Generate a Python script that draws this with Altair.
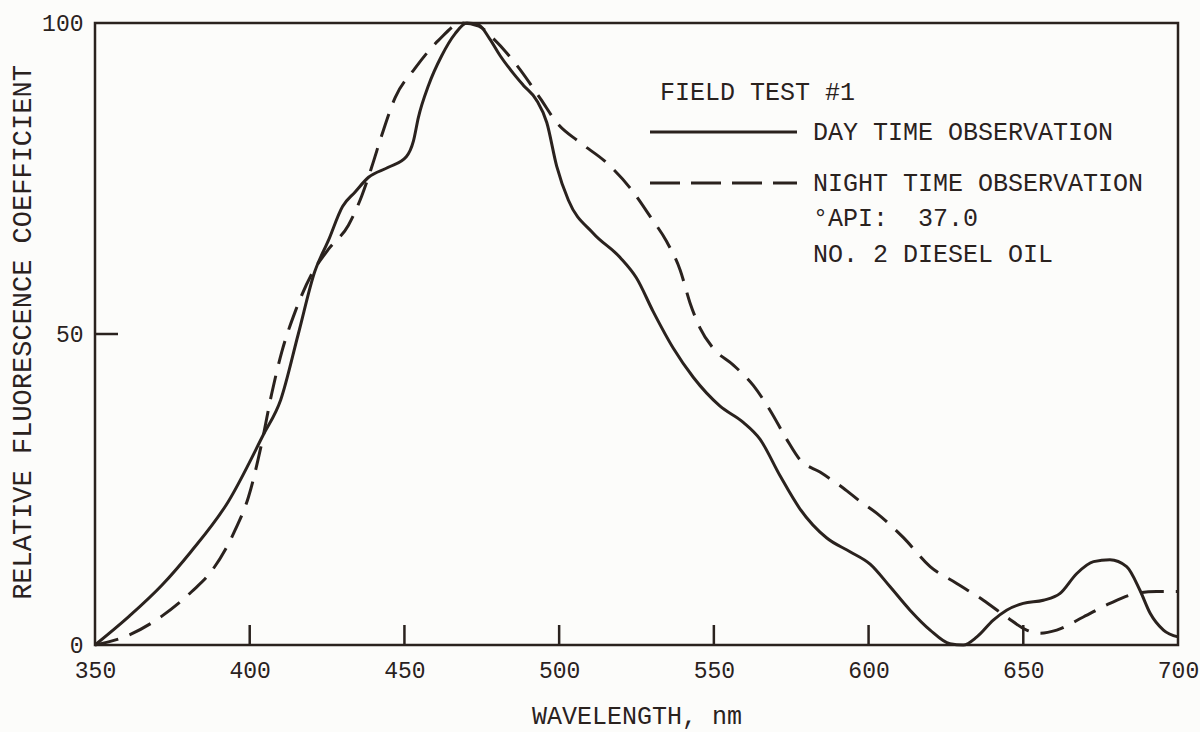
import altair as alt
import pandas as pd

# ---- data ----
day_nm = [350, 361, 371.6, 381, 393, 404.4, 410, 415.7, 421, 425.4, 430, 434, 438.4,
          444.8, 450.6, 452.9, 454.5, 457.8, 462, 466.4, 470.2, 474, 477.5, 481, 485.2,
          488.4, 492.7, 496, 499.2, 503, 511, 519.7, 525, 530.4, 536.9, 543.4, 552,
          559.5, 564.9, 571.4, 577.8, 586.5, 594, 600.5, 606.9, 613.4, 619.9, 626.3,
          630.6, 635, 640.3, 644.6, 650, 656.5, 661.9, 667.3, 672.7, 678, 683.4, 687.7,
          691, 695.3, 700]
day_val = [0, 4.6, 9.6, 15, 23, 33.8, 39.4, 50, 60, 65, 70.5, 72.8, 75.2,
           76.8, 78.5, 81, 84.8, 90, 94.7, 98.3, 100, 99.7, 97.5, 94.7, 91.9,
           90, 87.6, 84, 77, 71.5, 66.2, 62.3, 59, 53.6, 47.7, 43, 38.4,
           35.8, 33.1, 27.2, 21.9, 17.2, 15, 13, 9.4, 5.6, 2.4, 0.2,
           0, 1.3, 4, 5.6, 6.7, 7.2, 8.3, 11.5, 13.4, 13.7, 12.6, 8.8,
           5.1, 2.4, 1.3]

night_nm = [350, 361, 371.5, 381.3, 387.7, 395.3, 399.6, 403.9, 407.1, 410.3, 414.7,
            420, 425.4, 431.9, 436.2, 439.4, 442.7, 447, 453.4, 461, 468.5, 474,
            478.7, 486, 494, 499.2, 506.7, 515.4, 522.9, 529.4, 534.7, 539.1, 542.3,
            545.5, 549.8, 556.3, 562.8, 568.2, 573.5, 577.8, 584.3, 591.9, 597, 602.6,
            611.2, 619.9, 628.5, 637.1, 644.6, 651.1, 655.4, 660.8, 669.4, 678, 686.7,
            693.1, 700]
night_val = [0, 1.6, 4.6, 8.6, 11.9, 18.5, 23.8, 32.5, 40.4, 47, 53.6,
             59.6, 63.6, 67.5, 72.2, 76.8, 82, 88, 92.7, 97.2, 100, 99.5,
             97.5, 93.4, 87.8, 84, 80.8, 77.5, 73.5, 68.9, 64.9, 60.3, 55,
             51, 47.7, 45, 41.7, 37.7, 33.1, 29.8, 27.8, 25.2, 23.2, 21.2,
             17.3, 12.6, 9.9, 7.2, 4.5, 2.4, 1.9, 2.4, 4.5, 6.7, 8.3,
             8.6, 8.6]

x_labels = [350, 400, 450, 500, 550, 600, 650, 700]
y_labels = [0, 50, 100]
inner_x_ticks = [400, 450, 500, 550, 600, 650]
inner_y_ticks = [50]

legend_title = "FIELD TEST #1"
series_labels = ["DAY TIME OBSERVATION", "NIGHT TIME OBSERVATION"]
note_lines = ["°API:\u00a0\u00a037.0", "NO. 2 DIESEL OIL"]

# ---- styling ----
INK = "#2a221e"
FONT = "Liberation Mono"
W, H = 1083, 622

xscale = alt.Scale(domain=[350, 700], nice=False, zero=False)
yscale = alt.Scale(domain=[0, 100], nice=False, zero=True)

xaxis = alt.Axis(values=x_labels, title="WAVELENGTH, nm", ticks=False, tickSize=0,
                 domain=False, grid=False, labelFont=FONT, labelFontSize=23,
                 labelColor=INK, labelPadding=14, labelOverlap=False, labelFlush=False,
                 titleFont=FONT, titleFontSize=25, titleFontWeight="normal",
                 titleColor=INK, titleX=W / 2, titleY=70, titleBaseline="middle",
                 titleAlign="center")
yaxis = alt.Axis(values=y_labels, title="RELATIVE FLUORESCENCE COEFFICIENT",
                 ticks=False, tickSize=0, domain=False, grid=False, labelFont=FONT,
                 labelFontSize=23, labelColor=INK, labelPadding=12,
                 labelOverlap=False, labelFlush=False, titleFont=FONT,
                 titleFontSize=27, titleFontWeight="normal", titleColor=INK,
                 titleX=-73, titleY=H / 2 - 2, titleAngle=270, titleBaseline="middle",
                 titleAlign="center")

X = alt.X("nm:Q", scale=xscale, axis=xaxis)
Y = alt.Y("val:Q", scale=yscale, axis=yaxis)

day_df = pd.DataFrame({"nm": day_nm, "val": day_val})
night_df = pd.DataFrame({"nm": night_nm, "val": night_val})

day_line = alt.Chart(day_df).mark_line(
    color=INK, strokeWidth=3, interpolate="monotone"
).encode(x=X, y=Y)

night_line = alt.Chart(night_df).mark_line(
    color=INK, strokeWidth=3, interpolate="monotone", strokeDash=[24, 12]
).encode(x=X, y=Y)

xt = alt.Chart(pd.DataFrame({"nm": inner_x_ticks})).mark_rule(
    color=INK, strokeWidth=2.5
).encode(x=X, y=alt.value(H), y2=alt.value(H - 20))

yt = alt.Chart(pd.DataFrame({"val": inner_y_ticks})).mark_rule(
    color=INK, strokeWidth=2.5
).encode(y=Y, x=alt.value(0), x2=alt.value(23))


def text_at(s, x, y):
    return alt.Chart(pd.DataFrame({"t": [s]})).mark_text(
        align="left", baseline="middle", font=FONT, fontSize=25, color=INK
    ).encode(text="t:N", x=alt.value(x), y=alt.value(y))


one = pd.DataFrame({"k": [0]})
leg_solid = alt.Chart(one).mark_rule(color=INK, strokeWidth=3).encode(
    x=alt.value(555), x2=alt.value(702), y=alt.value(109))
leg_dash = alt.Chart(one).mark_rule(color=INK, strokeWidth=3, strokeDash=[30, 11]).encode(
    x=alt.value(555), x2=alt.value(702), y=alt.value(160))

chart = alt.layer(
    day_line, night_line, xt, yt, leg_solid, leg_dash,
    text_at(legend_title, 565, 69),
    text_at(series_labels[0], 718, 109),
    text_at(series_labels[1], 718, 160),
    text_at(note_lines[0], 718, 195),
    text_at(note_lines[1], 718, 231),
).properties(
    width=W, height=H,
    padding={"left": 95, "top": 23, "right": 22, "bottom": 87},
    autosize=alt.AutoSizeParams(type="none"),
    background="#fcfcfa",
).configure_view(stroke=INK, strokeWidth=2.5)

chart.save("out.html", embed_options={"renderer": "svg", "actions": False})
